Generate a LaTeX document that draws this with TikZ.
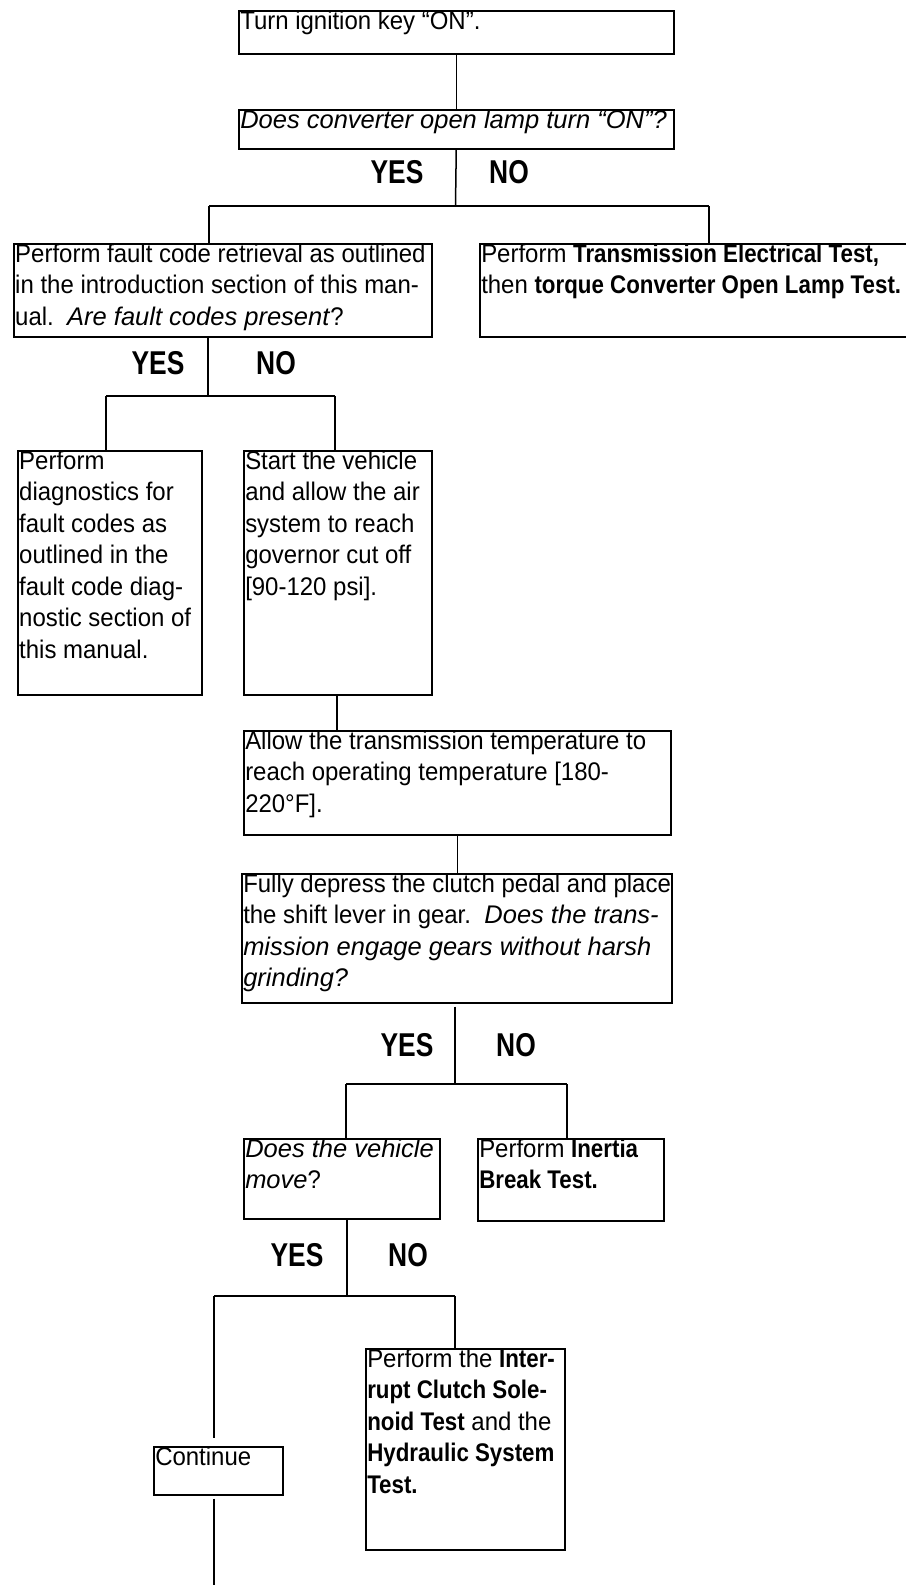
\documentclass[tikz,border=0pt]{standalone}
\usepackage{fontspec}
\setmainfont{Liberation Sans}[UprightFeatures={FakeStretch=0.94},BoldFeatures={FakeStretch=0.875}]
\newfontfamily\ynfont{Liberation Sans}[FakeStretch=0.8]
\begin{document}
\begin{tikzpicture}[x=1pt,y=-1pt,line width=1.5pt,
  box/.style={draw,rectangle,anchor=north west,inner sep=0pt},
  txt/.style={anchor=north west,align=left,inner xsep=1.5pt,inner ysep=0pt,
    font=\fontsize{25.5}{31.5}\selectfont},
  yn/.style={font=\ynfont\bfseries\fontsize{33}{33}\selectfont,inner sep=0pt}]
\useasboundingbox (0,0) rectangle (905,1585);
% boxes
\node[box,minimum width=435pt,minimum height=43pt] (b1) at (238,10) {};
\node[box,minimum width=435pt,minimum height=39pt] (b2) at (238,109) {};
\node[box,minimum width=418pt,minimum height=93pt] (b3) at (13,243) {};
\node[box,minimum width=440pt,minimum height=93pt] (b4) at (479,243) {};
\node[box,minimum width=184pt,minimum height=244pt] (b5) at (17,450) {};
\node[box,minimum width=188pt,minimum height=244pt] (b6) at (243,450) {};
\node[box,minimum width=427pt,minimum height=104pt] (b7) at (243,730) {};
\node[box,minimum width=430pt,minimum height=129pt] (b8) at (241,873) {};
\node[box,minimum width=196pt,minimum height=80pt] (b9) at (243,1138) {};
\node[box,minimum width=186pt,minimum height=82pt] (b10) at (477,1138) {};
\node[box,minimum width=129pt,minimum height=48pt] (cont) at (153,1446) {};
\node[box,minimum width=199pt,minimum height=201pt] (b11) at (365,1348) {};
% texts
\node[txt] (t1) at (b1.north west) {Turn ignition key “ON”.};
\node[txt] (t2) at (b2.north west) {\itshape Does converter open lamp turn “ON”?};
\node[txt] (t3) at (b3.north west) {Perform fault code retrieval as outlined\\in the introduction section of this man-\\ual.\ \ \textit{Are fault codes present}?};
\node[txt] (t4) at (b4.north west) {Perform \textbf{Transmission Electrical Test,}\\then \textbf{torque Converter Open Lamp Test.}};
\node[txt] (t5) at (b5.north west) {Perform\\diagnostics for\\fault codes as\\outlined in the\\fault code diag-\\nostic section of\\this manual.};
\node[txt] (t6) at (b6.north west) {Start the vehicle\\and allow the air\\system to reach\\governor cut off\\{[}90-120 psi{]}.};
\node[txt] (t7) at (b7.north west) {Allow the transmission temperature to\\reach operating temperature {[}180-\\220°F{]}.};
\node[txt] (t8) at (b8.north west) {Fully depress the clutch pedal and place\\the shift lever in gear.\ \ \textit{Does the trans-}\\\textit{mission engage gears without harsh}\\\textit{grinding?}};
\node[txt] (t9) at (b9.north west) {\textit{Does the vehicle}\\\textit{move}?};
\node[txt] (t10) at (b10.north west) {Perform \textbf{Inertia}\\\textbf{Break Test.}};
\node[txt] (t11) at (cont.north west) {Continue};
\node[txt] (t12) at (b11.north west) {Perform the \textbf{Inter-}\\\textbf{rupt Clutch Sole-}\\\textbf{noid Test} and the\\\textbf{Hydraulic System}\\\textbf{Test.}};
% yes/no labels
\node[yn] (y1) at (397,172) {YES};
\node[yn] (n1) at (509,172) {NO};
\node[yn] (y2) at (158,363) {YES};
\node[yn] (n2) at (276,363) {NO};
\node[yn] (y3) at (407,1045) {YES};
\node[yn] (n3) at (516,1045) {NO};
\node[yn] (y4) at (297,1255) {YES};
\node[yn] (n4) at (408,1255) {NO};
% junctions
\coordinate (j1) at (455.5,206);
\coordinate (j1l) at (209,206);
\coordinate (j1r) at (709,206);
\coordinate (j2) at (208,396);
\coordinate (j2l) at (106,396);
\coordinate (j2r) at (335,396);
\coordinate (x3) at (337,0);
\coordinate (j4) at (455,1084);
\coordinate (j4l) at (346,1084);
\coordinate (j4r) at (567,1084);
\coordinate (j5) at (347,1296);
\coordinate (j5l) at (214,1296);
\coordinate (j5r) at (455,1296);
\coordinate (endc) at (214,1590);
% connectors
\draw (b1.south) -- (b2.north);
\draw (b2.south) -- (j1);
\draw (j1l) -- (j1r);
\draw (j1l) -- (j1l |- b3.north);
\draw (j1r) -- (j1r |- b4.north);
\draw (j2 |- b3.south) -- (j2);
\draw (j2l) -- (j2r);
\draw (j2l) -- (j2l |- b5.north);
\draw (j2r) -- (j2r |- b6.north);
\draw (x3 |- b6.south) -- (x3 |- b7.north);
\draw (b7.south) -- (b7.south |- b8.north);
\draw ([yshift=-3pt]j4 |- b8.south) -- (j4);
\draw (j4l) -- (j4r);
\draw (j4l) -- (j4l |- b9.north);
\draw (j4r) -- (j4r |- b10.north);
\draw (j5 |- b9.south) -- (j5);
\draw (j5l) -- (j5r);
\draw (j5l) -- ([yshift=8pt]j5l |- cont.north);
\draw (j5r) -- (j5r |- b11.north);
\draw ([yshift=-3pt]j5l |- cont.south) -- (endc);
\end{tikzpicture}
\end{document}
